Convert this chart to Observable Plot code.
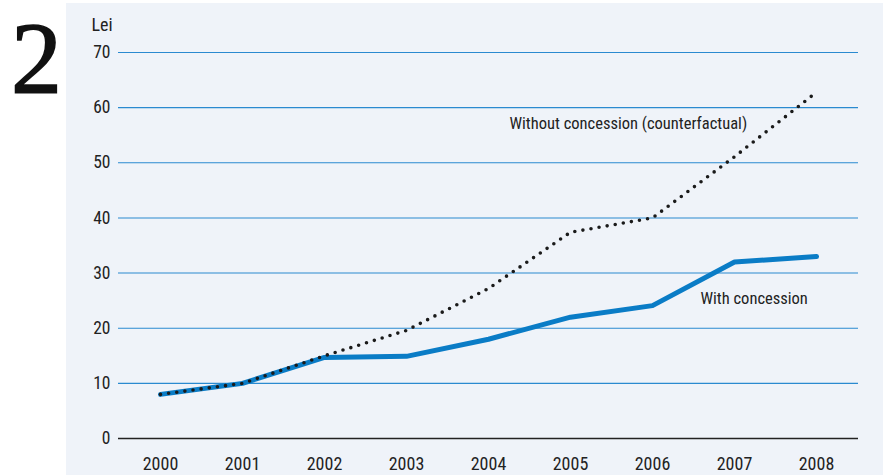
<!DOCTYPE html>
<html><head><meta charset="utf-8">
<script src="https://cdn.jsdelivr.net/npm/d3@7"></script>
<script src="https://cdn.jsdelivr.net/npm/@observablehq/plot@0.6"></script>
<style>
html,body{margin:0;padding:0;background:#fff;}
#wrap{position:relative;width:883px;height:475px;}
#panel{position:absolute;left:66px;top:3px;right:0;bottom:0;background:#eff3f9;}
#num{position:absolute;left:11px;top:0px;font-family:"Liberation Serif","DejaVu Serif",serif;font-size:102px;line-height:normal;color:#111;-webkit-text-stroke:1.5px #111;}
#chart{position:absolute;left:0;top:0;}
</style></head>
<body>
<div id="wrap"><div id="panel"></div><div id="num">2</div><div id="chart"></div></div>
<script>
const years = ["2000","2001","2002","2003","2004","2005","2006","2007","2008"];
const withConcession = [8.0, 10.0, 14.7, 14.9, 18.0, 22.0, 24.1, 32.0, 33.0];
const withoutConcession = [8.0, 10.0, 15.0, 19.6, 27.2, 37.4, 40.0, 51.1, 62.8];
const yTicks = [0, 10, 20, 30, 40, 50, 60, 70];
const unitLabel = "Lei";
const labels = [
  {text: "Without concession (counterfactual)", x: "2004", y: 57.1},
  {text: "With concession", x: "2007", y: 25.3}
];

const dWith = years.map((y, i) => ({year: y, value: withConcession[i]}));
const dWithout = years.map((y, i) => ({year: y, value: withoutConcession[i]}));
const font = "'Roboto Condensed','Liberation Sans Narrow','Arial Narrow',Arial,sans-serif";

const chart = Plot.plot({
  width: 883, height: 475,
  marginLeft: 118, marginRight: 25, marginTop: 52, marginBottom: 37,
  style: {background: "transparent", fontFamily: font, fontSize: "17px", color: "#222"},
  x: {type: "point", domain: years, padding: 0.5, label: null},
  y: {domain: [0, 70], label: null},
  marks: [
    Plot.ruleY(yTicks.filter(t => t > 0), {stroke: "#2a8ad0", strokeWidth: 1.1}),
    Plot.ruleY([0], {stroke: "#222", strokeWidth: 1.5}),
    Plot.axisY({ticks: yTicks, tickSize: 0, tickPadding: 8, label: null, fontSize: 17.5}),
    Plot.axisX({tickSize: 0, tickPadding: 19, label: null, fontSize: 18}),
    Plot.text([unitLabel], {frameAnchor: "top-left", dx: -27, dy: -34, fontSize: 18, textAnchor: "start", fill: "#222"}),
    Plot.line(dWith, {x: "year", y: "value", stroke: "#0a7cc6", strokeWidth: 5, strokeLinecap: "round", strokeLinejoin: "round"}),
    Plot.line(dWithout, {x: "year", y: "value", stroke: "#1a1a1a", strokeWidth: 3.6, strokeDasharray: "0,8.2", strokeLinecap: "round"}),
    Plot.text(labels.slice(0,1), {x: "x", y: "y", text: "text", textAnchor: "start", dx: 21, fontSize: 16.5, fill: "#222"}),
    Plot.text(labels.slice(1), {x: "x", y: "y", text: "text", textAnchor: "start", dx: -34, fontSize: 16.5, fill: "#222"})
  ]
});
document.getElementById("chart").appendChild(chart);
</script>
</body></html>
